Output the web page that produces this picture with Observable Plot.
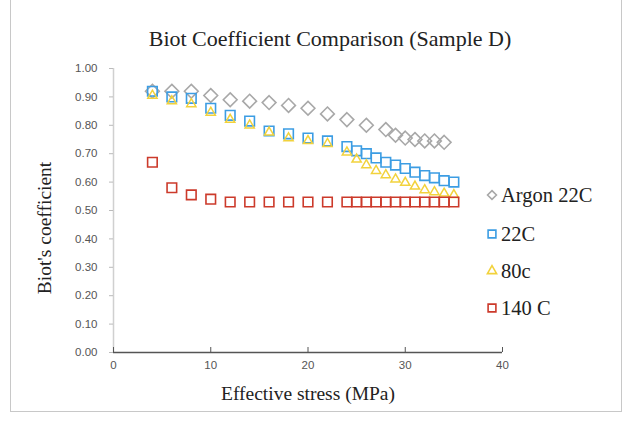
<!DOCTYPE html>
<html>
<head>
<meta charset="utf-8">
<script src="https://cdn.jsdelivr.net/npm/d3@7"></script>
<script src="https://cdn.jsdelivr.net/npm/@observablehq/plot@0.6"></script>
<style>
  html, body { margin: 0; padding: 0; background: #fff; }
  #wrap { position: relative; width: 631px; height: 423px; overflow: hidden; }
  #frame { position: absolute; left: 10px; top: -2px; width: 612px; height: 414px; border: 1px solid #c8c8c8; border-top: none; box-sizing: border-box; }
  .txt { position: absolute; font-family: "Liberation Serif", "DejaVu Serif", serif; color: #222; white-space: nowrap; }
  #title { left: 0; width: 660px; text-align: center; top: 26px; font-size: 22px; }
  #xlabel { left: 0; width: 616px; text-align: center; top: 383px; font-size: 19.5px; }
  #ylabel { left: 45px; top: 228px; font-size: 19.5px; transform: translate(-50%, -50%) rotate(-90deg); }
  #legend { position: absolute; left: 485px; top: 182px; }
  .li { position: absolute; left: 0; height: 24px; display: flex; align-items: center; font-family: "Liberation Serif", serif; font-size: 20.5px; color: #222; white-space: nowrap; }
  .li svg { margin-right: 2px; }
  svg text { font-family: "Liberation Sans", Arial, sans-serif; }
</style>
</head>
<body>
<div id="wrap">
  <div id="frame"></div>
  <div id="chart"></div>
  <div class="txt" id="title">Biot Coefficient Comparison (Sample D)</div>
  <div class="txt" id="xlabel">Effective stress (MPa)</div>
  <div class="txt" id="ylabel">Biot's coefficient</div>
  <div id="legend"></div>
</div>
<script>
// ---- data ----
const seriesNames = ["Argon 22C", "22C", "80c", "140 C"];

const argonX = [4, 6, 8, 10, 12, 14, 16, 18, 20, 22, 24, 26, 28, 29, 30, 31, 32, 33, 34];
const argonY = [0.92, 0.92, 0.92, 0.905, 0.89, 0.885, 0.88, 0.87, 0.86, 0.84, 0.82, 0.80, 0.785, 0.765, 0.755, 0.75, 0.745, 0.745, 0.74];

const c22X = [4, 6, 8, 10, 12, 14, 16, 18, 20, 22, 24, 25, 26, 27, 28, 29, 30, 31, 32, 33, 34, 35];
const c22Y = [0.92, 0.90, 0.895, 0.86, 0.835, 0.815, 0.78, 0.77, 0.755, 0.745, 0.725, 0.71, 0.70, 0.685, 0.67, 0.66, 0.648, 0.635, 0.623, 0.615, 0.605, 0.60];

const c80X = [4, 6, 8, 10, 12, 14, 16, 18, 20, 22, 24, 25, 26, 27, 28, 29, 30, 31, 32, 33, 34, 35];
const c80Y = [0.905, 0.885, 0.875, 0.845, 0.82, 0.80, 0.775, 0.755, 0.745, 0.735, 0.705, 0.68, 0.66, 0.64, 0.625, 0.61, 0.598, 0.585, 0.572, 0.565, 0.56, 0.555];

const c140X = [4, 6, 8, 10, 12, 14, 16, 18, 20, 22, 24, 25, 26, 27, 28, 29, 30, 31, 32, 33, 34, 35];
const c140Y = [0.67, 0.58, 0.555, 0.54, 0.53, 0.53, 0.53, 0.53, 0.53, 0.53, 0.53, 0.53, 0.53, 0.53, 0.53, 0.53, 0.53, 0.53, 0.53, 0.53, 0.53, 0.53];

const xTicks = [0, 10, 20, 30, 40];
const yTicks = [0, 0.1, 0.2, 0.3, 0.4, 0.5, 0.6, 0.7, 0.8, 0.9, 1.0];

// ---- styles ----
const styles = {
  "Argon 22C": {symbol: "diamond2", d3sym: d3.symbolDiamond2, color: "#a8a8a8", r: 6.2, sw: 1.6},
  "22C": {symbol: "square", d3sym: d3.symbolSquare, color: "#3c9de3", r: 5.4, sw: 1.6},
  "80c": {symbol: "triangle2", d3sym: d3.symbolTriangle2, color: "#f2d23c", r: 4.4, sw: 1.5},
  "140 C": {symbol: "square", d3sym: d3.symbolSquare, color: "#cc3a2b", r: 5.4, sw: 1.6}
};

const toRows = (name, xs, ys) => xs.map((x, i) => ({series: name, x, y: ys[i]}));
const sets = [
  toRows("Argon 22C", argonX, argonY),
  toRows("22C", c22X, c22Y),
  toRows("80c", c80X, c80Y),
  toRows("140 C", c140X, c140Y)
];

const dotMarks = sets.map(rows => {
  const s = styles[rows[0].series];
  return Plot.dot(rows, {x: "x", y: "y", symbol: () => s.symbol, r: s.r, stroke: s.color, strokeWidth: s.sw, fill: "none"});
});

const chart = Plot.plot({
  width: 631,
  height: 423,
  marginLeft: 113,
  marginRight: 129,
  marginTop: 68,
  marginBottom: 71,
  style: {background: "transparent", overflow: "visible"},
  symbol: {type: "identity"},
  x: {domain: [0, 40]},
  y: {domain: [0, 1]},
  marks: [
    Plot.ruleX([0], {stroke: "#d0d0d0", strokeWidth: 1.5}),
    Plot.axisY(yTicks, {tickFormat: d3.format(".2f"), tickSize: 4, tickPadding: 12, stroke: "#bbb", fill: "#555", fontSize: 11.5, label: null}),
    ...dotMarks,
    Plot.ruleY([0], {stroke: "#555", strokeWidth: 1.5}),
    Plot.axisX(xTicks, {tickFormat: d3.format("d"), tickSize: -5, tickPadding: 13, stroke: "#555", fill: "#555", fontSize: 11.5, label: null})
  ]
});
document.getElementById("chart").appendChild(chart);

// ---- legend ----
const legend = document.getElementById("legend");
const legendTops = [1, 40, 77, 114];
seriesNames.forEach((name, i) => {
  const s = styles[name];
  const size = name === "Argon 22C" ? Math.PI * 4 * 4 : Math.PI * 4.4 * 4.4;
  const sym = d3.symbol(s.d3sym, size)();
  item = document.createElement("div");
  item.className = "li";
  item.style.top = legendTops[i] + "px";
  item.innerHTML = `<svg width="14" height="14" viewBox="-7 -7 14 14"><path d="${sym}" fill="none" stroke="${s.color}" stroke-width="1.6"/></svg><span>${name}</span>`;
  legend.appendChild(item);
});
</script>
</body>
</html>
